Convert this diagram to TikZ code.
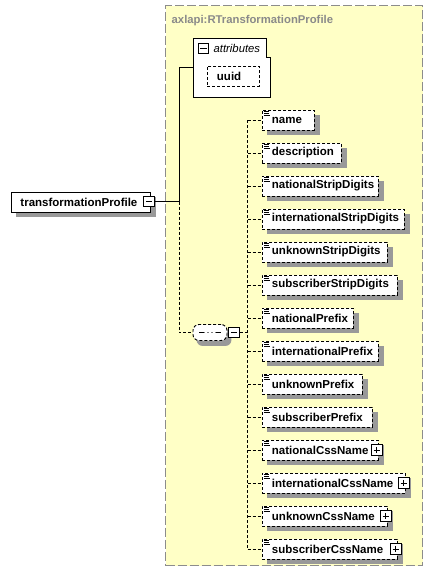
\documentclass[tikz,border=0pt]{standalone}
\usepackage{fontspec}
\setmainfont{Liberation Sans}
\usetikzlibrary{positioning}
\definecolor{compfill}{HTML}{FFFFC6}
\definecolor{compline}{HTML}{8C8C8C}
\definecolor{titlegray}{HTML}{8A8A8A}
\definecolor{boxshade}{rgb}{0.6,0.6,0.6}
\pgfdeclarelayer{back}
\pgfdeclarelayer{shade}
\pgfsetlayers{back,shade,main}
\begin{document}
\begin{tikzpicture}[x=1pt, y=-1pt,
		every node/.style={font=\fontsize{11.5}{13}\selectfont\bfseries},
		conn/.style={dash pattern=on 3pt off 2pt},
		elembox/.style={draw, line width=0.9pt, dash pattern=on 3pt off 2pt, fill=white, minimum height=20pt, anchor=west, inner xsep=9.5pt, text width=#1, align=left},
		elem/.style={elembox=#1, path picture={
			\draw[solid, line width=0.8pt] ([shift={(1.5pt,-1.8pt)}]path picture bounding box.north west) -- +(5.5pt,0)
				([shift={(1.5pt,-3.8pt)}]path picture bounding box.north west) -- +(5.5pt,0)
				([shift={(1.5pt,-5.8pt)}]path picture bounding box.north west) -- +(6.5pt,0);}},
		rootbox/.style={draw, line width=0.9pt, fill=white, minimum height=20pt, anchor=west, inner xsep=9pt, text width=#1, align=left},
		seqbox/.style={draw, line width=0.9pt, dash pattern=on 3pt off 2pt, fill=white, rounded corners=6pt, minimum width=34pt, minimum height=16pt, path picture={
			\draw[solid, line width=1.2pt] ([xshift=-11pt]path picture bounding box.center) -- ([xshift=11pt]path picture bounding box.center);
			\foreach \dx in {-4,0,4} \fill[solid] ([xshift=\dx pt]path picture bounding box.center) circle (1.6pt);}},
		togglebox/.style={draw, solid, line width=1pt, fill=white, minimum size=10.5pt, inner sep=0pt},
		minusbox/.style={togglebox, path picture={
			\draw[line width=1pt] ([xshift=2pt]path picture bounding box.west) -- ([xshift=-2pt]path picture bounding box.east);}},
		plusbox/.style={togglebox, path picture={
			\draw[line width=1pt] ([xshift=2pt]path picture bounding box.west) -- ([xshift=-2pt]path picture bounding box.east)
				([yshift=-2pt]path picture bounding box.north) -- ([yshift=2pt]path picture bounding box.south);}},
	]
		\useasboundingbox (0,0) rectangle (433,581);
		
		\begin{pgfonlayer}{back}
			\node (ctype) [draw=compline, fill=compfill, line width=1.4pt, dash pattern=on 9pt off 3pt, anchor=north west, minimum width=257pt, minimum height=560pt] at (165,5) {};
		\end{pgfonlayer}
		\node (title) [anchor=base west, text=titlegray, font=\fontsize{11.3}{13}\selectfont\bfseries, inner sep=0pt] at (171.5,23) {axlapi:RTransformationProfile};
		
		\node (attrs) [anchor=north west, minimum width=77.5pt, minimum height=59pt, inner sep=0pt] at (193,38) {};
		\draw[line width=0.9pt, fill=white] (attrs.north west) -- ([xshift=-4pt]attrs.north east) -- ([shift={(-4pt,-19pt)}]attrs.north east) -- ([yshift=-19pt]attrs.north east) -- (attrs.south east) -- (attrs.south west) -- cycle;
		\node (attrminus) [minusbox] at (203.7,48.7) {};
		\node (attrlabel) [right=4pt of attrminus, inner sep=0pt, font=\fontsize{11.3}{13}\selectfont\itshape] {attributes};
		\node (uuid) [elembox=33pt] at (207,76.3) {uuid};
		
		\node (root) [rootbox=121pt] at (11,202) {transformationProfile};
		\node (rootminus) [minusbox] at (149,201.5) {};
		\coordinate (trunk) at (179,201.5);
		
		\node (seq) [seqbox] at (210,332.5) {};
		\node (seqminus) [minusbox, right=1pt of seq] {};
		\coordinate (bus) at (247.5,332.5);
		
		\node (name) [elem=33pt] at (262,120) {name};
		\node (description) [elem=60pt] at (262,153) {description};
		\node (natStrip) [elem=97pt] at (262,186) {nationalStripDigits};
		\node (intlStrip) [elem=123pt] at (262,219) {internationalStripDigits};
		\node (unkStrip) [elem=106pt] at (262,252) {unknownStripDigits};
		\node (subStrip) [elem=116pt] at (262,285) {subscriberStripDigits};
		\node (natPrefix) [elem=72pt] at (262,318) {nationalPrefix};
		\node (intlPrefix) [elem=97pt] at (262,351) {internationalPrefix};
		\node (unkPrefix) [elem=81pt] at (262,384) {unknownPrefix};
		\node (subPrefix) [elem=91pt] at (262,417) {subscriberPrefix};
		\node (natCss) [elem=97pt] at (262,450) {nationalCssName};
		\node (intlCss) [elem=124pt] at (262,483) {internationalCssName};
		\node (unkCss) [elem=106pt] at (262,516) {unknownCssName};
		\node (subCss) [elem=116pt] at (262,549) {subscriberCssName};
		
		\node (natCssplus) [plusbox] at ([xshift=-2pt]natCss.east) {};
		\node (intlCssplus) [plusbox] at ([xshift=-2pt]intlCss.east) {};
		\node (unkCssplus) [plusbox] at ([xshift=-2pt]unkCss.east) {};
		\node (subCssplus) [plusbox] at ([xshift=-2pt]subCss.east) {};
		
		% shadows behind the boxes
		\begin{pgfonlayer}{shade}
			\foreach \n in {uuid,root,name,description,natStrip,intlStrip,unkStrip,subStrip,natPrefix,intlPrefix,unkPrefix,subPrefix,natCss,intlCss,unkCss,subCss}
				\fill[boxshade] ([shift={(5pt,-5pt)}]\n.north west) rectangle ([shift={(5pt,-5pt)}]\n.south east);
			\fill[boxshade, rounded corners=6pt] ([shift={(4pt,-5pt)}]seq.north west) rectangle ([shift={(4pt,-5pt)}]seq.south east);
		\end{pgfonlayer}
		
		% model tree
		\draw[line width=0.9pt] (rootminus.east) -- (trunk) |- (attrs.west);
		\draw[conn, line width=0.9pt] (trunk) |- (seq.west);
		\draw[conn, line width=0.9pt] (seqminus.east) -- (bus);
		\draw[conn, line width=0.9pt] (name.west -| bus) -- (subCss.west -| bus);
		
		\draw[conn, line width=0.9pt] (name.west -| bus) -- (name.west);
		\draw[conn, line width=0.9pt] (description.west -| bus) -- (description.west);
		\draw[conn, line width=0.9pt] (natStrip.west -| bus) -- (natStrip.west);
		\draw[conn, line width=0.9pt] (intlStrip.west -| bus) -- (intlStrip.west);
		\draw[conn, line width=0.9pt] (unkStrip.west -| bus) -- (unkStrip.west);
		\draw[conn, line width=0.9pt] (subStrip.west -| bus) -- (subStrip.west);
		\draw[conn, line width=0.9pt] (natPrefix.west -| bus) -- (natPrefix.west);
		\draw[conn, line width=0.9pt] (intlPrefix.west -| bus) -- (intlPrefix.west);
		\draw[conn, line width=0.9pt] (unkPrefix.west -| bus) -- (unkPrefix.west);
		\draw[conn, line width=0.9pt] (subPrefix.west -| bus) -- (subPrefix.west);
		\draw[conn, line width=0.9pt] (natCss.west -| bus) -- (natCss.west);
		\draw[conn, line width=0.9pt] (intlCss.west -| bus) -- (intlCss.west);
		\draw[conn, line width=0.9pt] (unkCss.west -| bus) -- (unkCss.west);
		\draw[conn, line width=0.9pt] (subCss.west -| bus) -- (subCss.west);
	\end{tikzpicture}
\end{document}
